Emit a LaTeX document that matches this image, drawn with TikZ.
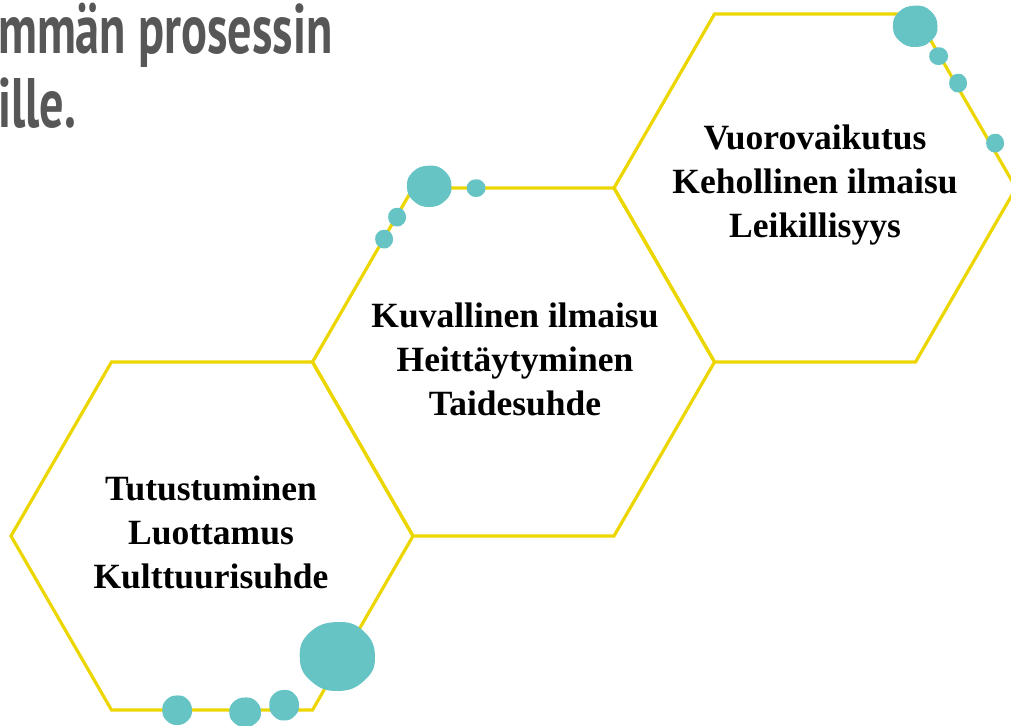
\documentclass[tikz,border=0pt]{standalone}
\usepackage{fontspec}
\setmainfont{Liberation Serif}
\newfontfamily\headfont[FakeStretch=0.69]{PT Sans}
\definecolor{hexyellow}{RGB}{236,214,0}
\definecolor{blobteal}{RGB}{102,196,196}
\definecolor{headgray}{RGB}{87,87,87}
\newcommand\myhex[3]{%
  \coordinate (#1) at (#2,#3);
  \draw[hexline] ({#2-201},{#3}) -- ({#2-100.5},{#3-174}) -- ({#2+100.5},{#3-174})
    -- ({#2+201},{#3}) -- ({#2+100.5},{#3+174}) -- ({#2-100.5},{#3+174}) -- cycle;}
\newcommand\myblob[4]{%
  \fill[blobfill,shift={(#1,#2)},xscale=#3,yscale=#4] plot[smooth cycle,tension=0.8]
    coordinates {(1.00,0.02) (0.72,0.70) (0.02,1.00) (-0.68,0.72) (-0.98,0.05) (-0.73,-0.66) (0.0,-0.97) (0.70,-0.71)};}
\begin{document}
\begin{tikzpicture}[x=1pt,y=-1pt,
  hexline/.style={draw=hexyellow,line width=3.2pt,line join=miter},
  blobfill/.style={fill=blobteal},
  hextext/.style={align=center,inner sep=0pt,font=\bfseries\fontsize{35.5}{44}\selectfont},
  head/.style={anchor=base west,inner sep=0pt,text=headgray,font=\headfont\bfseries\fontsize{70}{74}\selectfont}]
\useasboundingbox (0,0) rectangle (1011,725);
% hexagons
\myhex{hexA}{212}{536}
\myhex{hexB}{513.5}{362}
\myhex{hexC}{815}{188}
% blobs
\myblob{337}{656}{38}{35}
\myblob{177}{710}{15}{15}
\myblob{245}{712}{16}{15}
\myblob{284}{705}{15}{15.5}
\myblob{429}{186}{22.5}{21}
\myblob{476}{188}{9.5}{9}
\myblob{397}{217}{9}{9.5}
\myblob{384}{239}{9}{9.5}
\myblob{915}{26}{22.5}{21}
\myblob{938.5}{56}{9.5}{9}
\myblob{958}{83}{9}{9.5}
\myblob{995}{143}{9}{9.5}
% texts
\node[hextext] (tA) at (211,532) {Tutustuminen\\Luottamus\\Kulttuurisuhde};
\node[hextext] (tB) at (515,359) {Kuvallinen ilmaisu\\Heittäytyminen\\Taidesuhde};
\node[hextext] (tC) at (815,185) {Vuorovaikutus\\Kehollinen ilmaisu\\Leikillisyys};
\node[head] (h1) at (-2,53) {mmän prosessin};
\node[head] (h2) at (-2,127) {ille.};
\end{tikzpicture}
\end{document}
